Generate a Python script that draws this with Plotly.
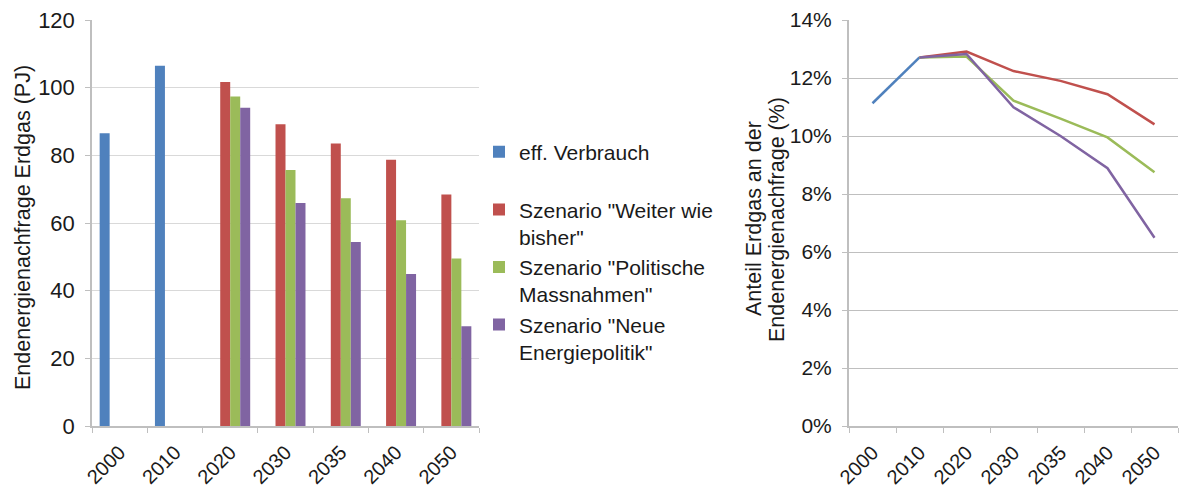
import plotly.graph_objects as go

# Categories (years) shared by both panels
years = ["2000", "2010", "2020", "2030", "2035", "2040", "2050"]

# Final energy demand for natural gas (PJ)
hist_years = ["2000", "2010"]
hist_pj = [86.5, 106.5]
scen_years = ["2020", "2030", "2035", "2040", "2050"]
weiter_pj = [101.7, 89.2, 83.5, 78.7, 68.4]
politik_pj = [97.4, 75.7, 67.3, 60.8, 49.5]
neue_pj = [94.1, 65.9, 54.4, 44.9, 29.5]

# Share of natural gas in final energy demand (fraction)
hist_share = [0.1113, 0.1271]
share_years = ["2010", "2020", "2030", "2035", "2040", "2050"]
weiter_share = [0.1271, 0.1291, 0.1224, 0.1190, 0.1144, 0.1040]
politik_share = [0.1271, 0.1274, 0.1122, 0.1060, 0.0995, 0.0875]
neue_share = [0.1271, 0.1283, 0.1099, 0.1000, 0.0889, 0.0649]

names = [
    "eff. Verbrauch<br> ",
    "Szenario \"Weiter wie<br>bisher\"",
    "Szenario \"Politische<br>Massnahmen\"",
    "Szenario \"Neue<br>Energiepolitik\"",
]
colors = ["#4F81BD", "#C0504D", "#9BBB59", "#8064A2"]

FONT = "Liberation Sans, Arial, sans-serif"
INK = "#1a1a1a"
W, H = 1179, 492
TOP, BOTTOM = 20, 66

fig = go.Figure()

bar_sets = [
    (hist_years, hist_pj),
    (scen_years, weiter_pj),
    (scen_years, politik_pj),
    (scen_years, neue_pj),
]
for i, (xs, ys) in enumerate(bar_sets):
    fig.add_trace(go.Bar(
        x=xs, y=ys, name=names[i], marker_color=colors[i],
        marker_line_width=0, xaxis="x", yaxis="y", legendgroup=str(i),
    ))

line_sets = [
    (hist_years, hist_share),
    (share_years, weiter_share),
    (share_years, politik_share),
    (share_years, neue_share),
]
for i, (xs, ys) in enumerate(line_sets):
    fig.add_trace(go.Scatter(
        x=xs, y=ys, mode="lines", line=dict(color=colors[i], width=2.5),
        xaxis="x2", yaxis="y2", showlegend=False,
    ))

xtick_font = dict(family=FONT, size=20, color=INK)


def title_annotation(text, x_px, y_px, size):
    """Vertical axis title placed in pixel terms on the paper."""
    plot_h = H - TOP - BOTTOM
    return dict(
        text=text, xref="paper", yref="paper",
        x=x_px / W, y=(H - BOTTOM - y_px) / plot_h,
        xanchor="center", yanchor="middle", textangle=-90,
        showarrow=False, font=dict(family=FONT, size=size, color=INK),
    )


fig.update_layout(
    width=W, height=H,
    margin=dict(l=0, r=0, t=TOP, b=BOTTOM, autoexpand=False),
    paper_bgcolor="white", plot_bgcolor="white",
    barmode="group", bargap=0.277, bargroupgap=0,
    font=dict(family=FONT, size=20, color=INK),
    showlegend=True,
    legend=dict(
        x=479 / W, xanchor="left", y=0.725, yanchor="top",
        valign="top", font=dict(family=FONT, size=21, color=INK),
        tracegroupgap=0, itemwidth=30, bgcolor="rgba(0,0,0,0)",
    ),
    xaxis=dict(
        domain=[92 / W, 479 / W], type="category", automargin=False,
        categoryorder="array", categoryarray=years, range=[-0.5, 6.5],
        tickson="boundaries", ticks="outside", ticklen=5, tickcolor="#bfbfbf",
        showline=True, linecolor="#bfbfbf", linewidth=1.5,
        tickangle=-45, tickfont=xtick_font, showgrid=False,
        ticklabelstandoff=5,
    ),
    yaxis=dict(
        domain=[0, 1], range=[0, 120], dtick=20, automargin=False,
        showgrid=True, gridcolor="#d9d9d9", gridwidth=1,
        showline=True, linecolor="#bfbfbf", linewidth=1.5,
        ticks="outside", ticklen=5, tickcolor="#bfbfbf",
        ticklabelstandoff=6,
        tickfont=dict(family=FONT, size=22, color=INK), zeroline=False,
    ),
    xaxis2=dict(
        domain=[849 / W, 1178 / W], type="category", automargin=False,
        categoryorder="array", categoryarray=years, range=[-0.5, 6.5],
        tickson="boundaries", ticks="outside", ticklen=5, tickcolor="#bfbfbf",
        showline=True, linecolor="#bfbfbf", linewidth=2,
        tickangle=-45, tickfont=xtick_font, showgrid=False,
        ticklabelstandoff=5, anchor="y2",
    ),
    yaxis2=dict(
        domain=[0, 1], range=[0, 0.14], dtick=0.02, tickformat=".0%",
        automargin=False,
        showgrid=True, gridcolor="#bfbfbf", gridwidth=1,
        showline=True, linecolor="#bfbfbf", linewidth=2,
        ticks="outside", ticklen=5, tickcolor="#bfbfbf",
        ticklabelstandoff=6,
        tickfont=dict(family=FONT, size=21, color=INK), zeroline=False,
        anchor="x2",
    ),
    annotations=[
        title_annotation("Endenergienachfrage Erdgas (PJ)", 23, 228, 21.5),
        title_annotation("Anteil Erdgas an der", 754, 219, 21.5),
        title_annotation("Endenergienachfrage (%)", 777, 219, 21.5),
    ],
)

fig.write_html("out.html")
